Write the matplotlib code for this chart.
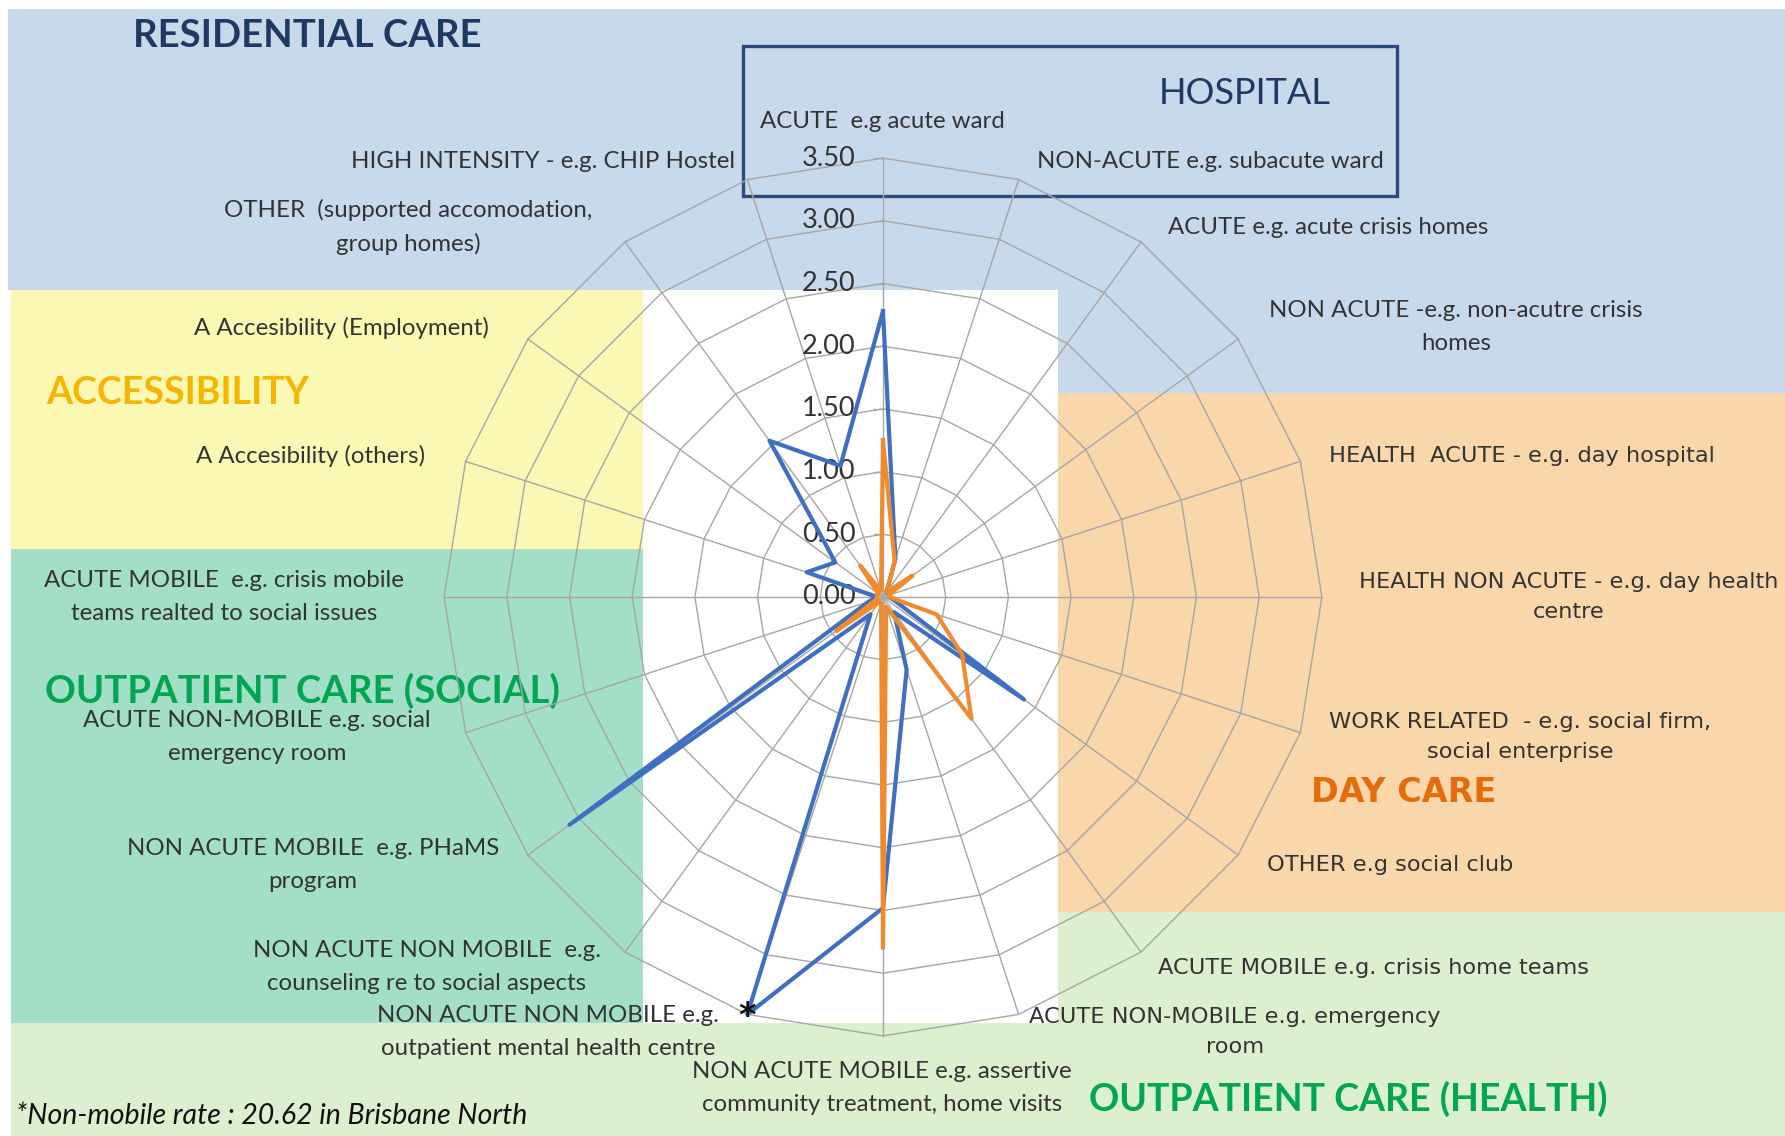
import matplotlib
matplotlib.use("Agg")
import matplotlib.pyplot as plt
from matplotlib.patches import Rectangle
import numpy as np

# axis categories, clockwise from the top
categories = [
    "ACUTE  e.g acute ward",
    "NON-ACUTE e.g. subacute ward",
    "ACUTE e.g. acute crisis homes",
    "NON ACUTE -e.g. non-acutre crisis\nhomes",
    "HEALTH  ACUTE - e.g. day hospital",
    "HEALTH NON ACUTE - e.g. day health\ncentre",
    "WORK RELATED  - e.g. social firm,\nsocial enterprise",
    "OTHER e.g social club",
    "ACUTE MOBILE e.g. crisis home teams",
    "ACUTE NON-MOBILE e.g. emergency\nroom",
    "NON ACUTE MOBILE e.g. assertive\ncommunity treatment, home visits",
    "NON ACUTE NON MOBILE e.g.\noutpatient mental health centre",
    "NON ACUTE NON MOBILE  e.g.\ncounseling re to social aspects",
    "NON ACUTE MOBILE  e.g. PHaMS\nprogram",
    "ACUTE NON-MOBILE e.g. social\nemergency room",
    "ACUTE MOBILE  e.g. crisis mobile\nteams realted to social issues",
    "A Accesibility (others)",
    "A Accesibility (Employment)",
    "OTHER  (supported accomodation,\ngroup homes)",
    "HIGH INTENSITY - e.g. CHIP Hostel",
]

# rates (blue and orange series)
blue_values = [2.28, 0.32, 0.05, 0.05, 0.05, 0.05, 0.10, 1.39, 0.15, 0.61,
               2.48, 20.62, 0.17, 3.09, 0.12, 0.05, 0.64, 0.47, 1.54, 1.10]
orange_values = [1.25, 0.30, 0.05, 0.29, 0.05, 0.05, 0.45, 0.78, 1.20, 0.08,
                 2.80, 0.05, 0.05, 0.46, 0.05, 0.05, 0.05, 0.05, 0.31, 0.05]

ring_levels = [0.5, 1.0, 1.5, 2.0, 2.5, 3.0, 3.5]
tick_levels = [0.0, 0.5, 1.0, 1.5, 2.0, 2.5, 3.0, 3.5]
r_max = 3.5
footnote = "*Non-mobile rate : 20.62 in Brisbane North"

# where each category label sits (pixels, from the top left)
label_pos = [
    (882, 121), (1210, 162), (1328, 228), (1456, 327), (1522, 456),
    (1569, 597), (1520, 737), (1390, 865), (1374, 968), (1235, 1032),
    (882, 1088), (548, 1032), (427, 967), (313, 865), (257, 737),
    (224, 597), (311, 456), (341, 328), (408, 227), (543, 162),
]
wide_font = {4, 5, 6, 7, 8, 9}

W, H = 1785, 1136
fig = plt.figure(figsize=(W / 100, H / 100), dpi=100)
fig.patch.set_facecolor("white")

bg = fig.add_axes([0, 0, 1, 1])
bg.set_xlim(0, W)
bg.set_ylim(H, 0)
bg.axis("off")

# coloured section blocks
blocks = [
    (8, 9, 1777, 281, "#c9d9ec"),      # residential care
    (1058, 290, 727, 103, "#c9d9ec"),
    (11, 290, 632, 259, "#fbf8b4"),    # accessibility
    (11, 549, 632, 474, "#a3dfc6"),    # outpatient social
    (1058, 393, 727, 519, "#f9d7ab"),  # day care
    (1058, 912, 727, 224, "#dcefcf"),  # outpatient health
    (11, 1023, 1774, 113, "#dcefcf"),
]
for x, y, w, h, c in blocks:
    bg.add_patch(Rectangle((x, y), w, h, facecolor=c, edgecolor="none", zorder=0))

bg.add_patch(Rectangle((743, 46), 654, 150, facecolor="none",
                       edgecolor="#2e4a7d", linewidth=2.4, zorder=3))

for i, (txt, (x, y)) in enumerate(zip(categories, label_pos)):
    if i in wide_font:
        bg.text(x, y, txt, ha="center", va="center", multialignment="center",
                fontsize=16.2, family="DejaVu Sans", color="#333333",
                linespacing=1.62, zorder=4)
    else:
        bg.text(x, y, txt, ha="center", va="center", multialignment="center",
                fontsize=17.3, family="Lato", color="#333333",
                linespacing=1.67, zorder=4)

titles = [
    ("RESIDENTIAL CARE", 307, 36, "#1f3864", 27.5, "bold", "Lato"),
    ("HOSPITAL", 1245, 93, "#1f3864", 26, "normal", "Lato"),
    ("ACCESSIBILITY", 178, 393, "#f7b500", 27, "bold", "Lato"),
    ("OUTPATIENT CARE (SOCIAL)", 302, 691, "#00a651", 27.5, "bold", "Lato"),
    ("DAY CARE", 1404, 793, "#e46c0a", 24, "bold", "DejaVu Sans"),
    ("OUTPATIENT CARE (HEALTH)", 1348, 1099, "#00a651", 27, "bold", "Lato"),
]
for txt, x, y, c, fs, fw, fam in titles:
    bg.text(x, y, txt, ha="center", va="center", color=c, fontsize=fs,
            fontweight=fw, family=fam, zorder=4)

bg.text(16, 1116, footnote, ha="left", va="center", fontsize=20.5,
        family="Lato", style="italic", color="#111111", zorder=4)

# radar chart
cx, cy, unit, lim = 883, 597, 125.4, 4.0
ax = fig.add_axes([(cx - lim * unit) / W, (H - cy - lim * unit) / H,
                   2 * lim * unit / W, 2 * lim * unit / H])
ax.set_xlim(-lim, lim)
ax.set_ylim(-lim, lim)
ax.axis("off")
ax.patch.set_alpha(0)

n = len(categories)
theta = np.arange(n) * 2 * np.pi / n
closed = np.append(theta, theta[0])

for lev in ring_levels:
    ax.plot(lev * np.sin(closed), lev * np.cos(closed), color="#a6a6a6",
            linewidth=1.0, zorder=1)
for t in theta:
    ax.plot([0, r_max * np.sin(t)], [0, r_max * np.cos(t)], color="#a6a6a6",
            linewidth=1.0, zorder=1)
for lev in tick_levels:
    ax.plot([-0.07, 0], [lev, lev], color="#a6a6a6", linewidth=1.0, zorder=1)
    ax.text(-0.22, lev, "%.2f" % lev, ha="right", va="center", fontsize=19.5,
            family="Lato", color="#333333", zorder=2)

for vals, col in [(blue_values, "#3f6fc0"), (orange_values, "#f08a2c")]:
    r = np.minimum(np.array(vals), r_max)
    r = np.append(r, r[0])
    ax.plot(r * np.sin(closed), r * np.cos(closed), color=col, linewidth=3.0,
            solid_joinstyle="round", zorder=3)

# asterisk marks the clipped outpatient value
k = int(np.argmax(blue_values))
ax.text(r_max * np.sin(theta[k]), r_max * np.cos(theta[k]) - 0.02, "*",
        ha="center", va="center", fontsize=24, fontweight="bold",
        color="#111111", zorder=4)

fig.savefig("out.png", dpi=100)
